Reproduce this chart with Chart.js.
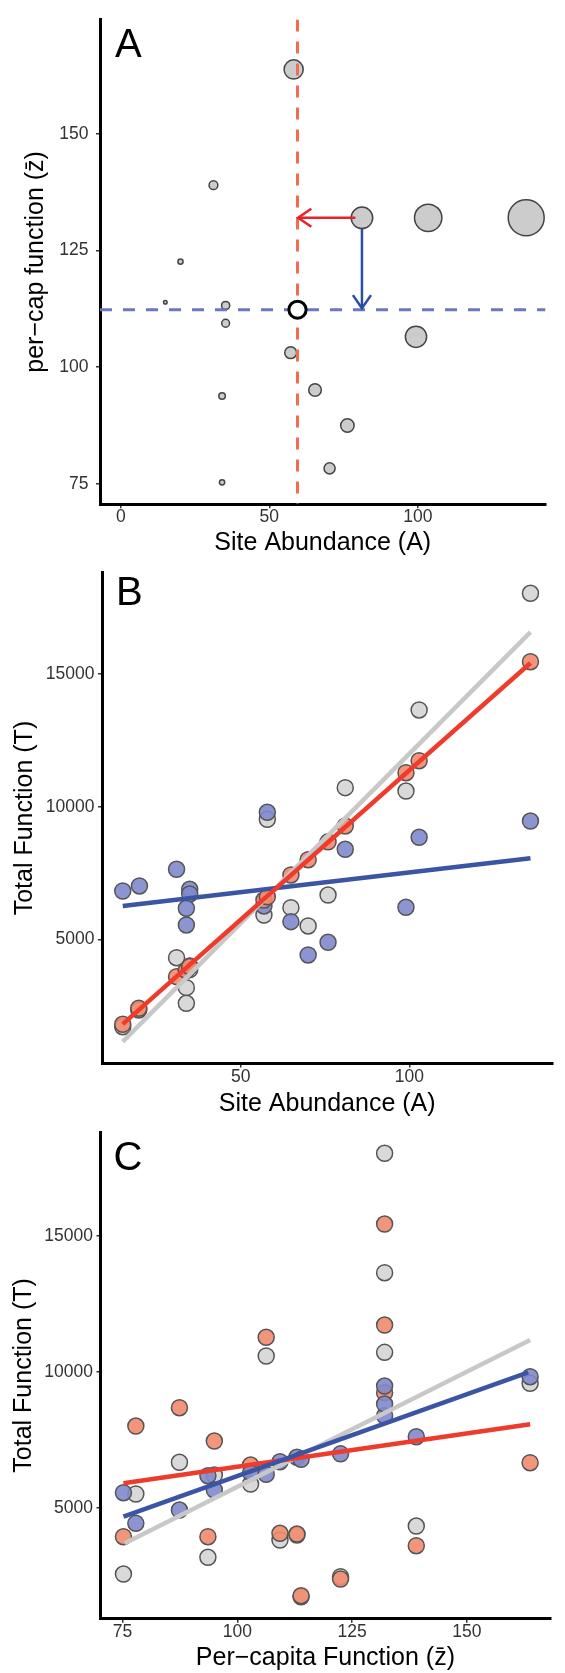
<!DOCTYPE html>
<html>
<head>
<meta charset="utf-8">
<script src="https://cdn.jsdelivr.net/npm/chart.js@4.4.1/dist/chart.umd.min.js"></script>
<style>
  html, body { margin: 0; padding: 0; background: #fff; }
  #wrap { position: relative; width: 565px; height: 1673px; overflow: hidden; }
  #wrap canvas { position: absolute; left: 0; }
</style>
</head>
<body>
<div id="wrap">
  <canvas id="chartA" width="565" height="560" style="top:0px"></canvas>
  <canvas id="chartB" width="565" height="575" style="top:545px"></canvas>
  <canvas id="chartC" width="565" height="558" style="top:1115px"></canvas>
</div>
<script>
// Panel A: one point per site
const siteAbundance = [15.0, 20.1, 31.2, 35.3, 35.3, 34.1, 34.1, 57.2, 58.2, 65.4, 70.3, 76.3, 81.2, 99.4, 103.5, 136.5];
const siteFunction = [113.9, 122.6, 139.0, 113.2, 109.4, 93.8, 75.3, 103.1, 163.8, 95.1, 78.3, 87.5, 132.0, 106.5, 132.0, 132.0];
const meanAbundance = 59.5;
const meanFunction = 112.3;
const redArrowX = [79.0, 59.7];
const redArrowY = [132.0, 132.0];
const blueArrowX = [81.2, 81.2];
const blueArrowY = [129.6, 112.6];
const aXRange = [-7, 143];
const aYRange = [70.6, 174.5];
const aXTicks = [0, 50, 100];
const aYTicks = [75, 100, 125, 150];

// Panel B: total function vs abundance
const bGreyA = [15.05, 19.8, 31.0, 34.9, 34.9, 33.9, 33.9, 57.9, 56.9, 64.9, 70.0, 75.9, 81.0, 99.0, 102.9, 135.9];
const bGreyT = [1704, 2334, 4306, 3990, 3860, 3175, 2586, 9525, 5916, 6192, 5502, 6670, 10717, 10592, 13647, 18048];
const bRedA = [15.05, 19.8, 31.0, 33.9, 33.9, 34.9, 34.9, 56.9, 57.9, 64.9, 70.0, 75.9, 81.0, 99.0, 102.9, 135.9];
const bRedT = [1795, 2398, 3590, 3830, 3830, 3970, 3970, 6480, 6600, 7425, 8000, 8675, 9273, 11282, 11735, 15468];
const bBlueA = [15.05, 20.0, 31.0, 34.9, 34.9, 33.9, 33.9, 56.9, 57.9, 64.9, 70.0, 75.9, 81.0, 99.0, 102.9, 135.9];
const bBlueT = [6821, 7010, 7640, 6886, 6708, 6169, 5539, 6256, 9789, 5664, 4408, 4887, 8394, 6207, 8846, 9460];
const bGreyFitA = [15.05, 135.9], bGreyFitT = [1139, 16580];
const bRedFitA = [15.05, 135.9], bRedFitT = [1800, 15420];
const bBlueFitA = [15.05, 135.9], bBlueFitT = [6256, 8054];
const bXRange = [8.9, 142.4];
const bYRange = [316, 18828];
const bXTicks = [50, 100];
const bYTicks = [5000, 10000, 15000];

// Panel C: total function vs per-capita function
const cGreyZ = [75.2, 77.9, 87.4, 93.6, 95.0, 102.9, 106.3, 109.3, 113.0, 113.9, 122.5, 132.1, 132.1, 132.1, 139.0, 163.8];
const cGreyT = [2563, 5504, 6669, 3177, 6202, 5871, 10577, 3813, 3996, 1728, 2464, 10712, 13639, 18028, 4327, 9573];
const cRedZ = [75.2, 77.9, 87.4, 93.6, 95.0, 102.9, 106.3, 109.3, 113.0, 113.9, 122.5, 132.1, 132.1, 132.1, 139.0, 163.8];
const cRedT = [3934, 8003, 8676, 3934, 7452, 6570, 11264, 4059, 4033, 1765, 2379, 9227, 11716, 15429, 3603, 6654];
const cBlueZ = [75.2, 77.9, 87.4, 93.6, 95.0, 102.9, 106.3, 109.3, 113.0, 113.9, 122.5, 132.1, 132.1, 132.1, 139.0, 163.8];
const cBlueT = [5551, 4426, 4915, 6176, 5651, 6287, 6228, 6691, 6853, 6779, 6981, 8382, 8812, 9474, 7610, 9816];
const cGreyFitZ = [75.5, 163.8], cGreyFitT = [3691, 11165];
const cRedFitZ = [75.2, 163.8], cRedFitT = [5897, 8066];
const cBlueFitZ = [75.2, 163.4], cBlueFitT = [4669, 9977];
const cXRange = [70.2, 168.2];
const cYRange = [920, 18804];
const cXTicks = [75, 100, 125, 150];
const cYTicks = [5000, 10000, 15000];

const FONT = "'Liberation Sans', Arial, Helvetica, sans-serif";
const GREY_FILL = "rgba(214,214,214,0.92)";
const RED_FILL = "rgba(242,138,108,0.9)";
const BLUE_FILL = "rgba(128,138,204,0.9)";
const EDGE = "#555";

function pts(xs, ys) {
  return xs.map((x, i) => ({ x: x, y: ys[i] }));
}

function axis(range, ticks, title, opts) {
  return {
    type: "linear",
    min: range[0],
    max: range[1],
    afterBuildTicks: (s) => { s.ticks = ticks.map((v) => ({ value: v })); },
    afterFit: (s) => {
      if (opts.horizontal) s.height = opts.size; else s.width = opts.size;
      s.paddingTop = 0; s.paddingBottom = 0; s.paddingLeft = 0; s.paddingRight = 0;
    },
    border: { display: true, color: "#000", width: 3 },
    grid: { display: true, drawOnChartArea: false, drawTicks: true, tickLength: 4, tickColor: "#333", lineWidth: 1.5 },
    ticks: {
      color: "#333", padding: opts.tickPad, autoSkip: false, maxRotation: 0,
      font: { family: FONT, size: 17.5, lineHeight: 1 },
      callback: (v) => String(v)
    },
    title: {
      display: true, text: title, color: "#000",
      font: { family: FONT, size: 25, lineHeight: 1.2 },
      padding: opts.titlePad
    }
  };
}

function fitLine(xs, ys, color, order) {
  return {
    data: pts(xs, ys), showLine: true, pointRadius: 0, borderColor: color,
    borderWidth: 4.5, borderCapStyle: "butt", order: order
  };
}

function dots(xs, ys, fill, order) {
  return {
    data: pts(xs, ys), pointRadius: 8, pointBorderWidth: 1.5,
    pointBackgroundColor: fill, pointBorderColor: EDGE, showLine: false, order: order
  };
}

const panelLetter = {
  id: "panelLetter",
  afterDraw(chart, args, opts) {
    const { ctx, chartArea } = chart;
    ctx.save();
    ctx.font = `40px ${FONT}`;
    ctx.fillStyle = "#000";
    ctx.textBaseline = "alphabetic";
    ctx.fillText(opts.text, chartArea.left + opts.dx, chartArea.top + opts.dy);
    ctx.restore();
  }
};

// open "V" heads at the end of datasets flagged as arrows
const arrowHeads = {
  id: "arrowHeads",
  afterDatasetsDraw(chart) {
    const ctx = chart.ctx;
    chart.data.datasets.forEach((ds, i) => {
      if (!ds.arrow) return;
      const els = chart.getDatasetMeta(i).data;
      const tip = els[els.length - 1];
      const from = els[els.length - 2];
      const ang = Math.atan2(tip.y - from.y, tip.x - from.x);
      const len = 16, spread = 0.6;
      ctx.save();
      ctx.strokeStyle = ds.borderColor;
      ctx.lineWidth = ds.borderWidth;
      ctx.beginPath();
      ctx.moveTo(tip.x - len * Math.cos(ang - spread), tip.y - len * Math.sin(ang - spread));
      ctx.lineTo(tip.x, tip.y);
      ctx.lineTo(tip.x - len * Math.cos(ang + spread), tip.y - len * Math.sin(ang + spread));
      ctx.stroke();
      ctx.restore();
    });
  }
};

function baseOptions(padTop, padRight, letter) {
  return {
    responsive: false,
    animation: false,
    devicePixelRatio: 1,
    layout: { padding: { top: padTop, right: padRight, left: 0, bottom: 0 } },
    plugins: {
      legend: { display: false },
      tooltip: { enabled: false },
      panelLetter: letter
    }
  };
}

// ---------- Panel A ----------
const siteTotal = siteAbundance.map((a, i) => a * siteFunction[i]);
const tMin = Math.min(...siteTotal), tMax = Math.max(...siteTotal);
function bubbleRadius(t) {
  return 1.8 + 16.2 * (t - tMin) / (tMax - tMin);
}

const optsA = baseOptions(10.7, 0, { text: "A", dx: 15, dy: 37.3 });
optsA.scales = {
  x: axis(aXRange, aXTicks, "Site Abundance (A)", { horizontal: true, size: 55.7, tickPad: 0, titlePad: { bottom: 2 } }),
  y: axis(aYRange, aYTicks, "per\u2212cap function (z\u0304)", { horizontal: false, size: 100, tickPad: 7.5, titlePad: { top: 21 } })
};

new Chart(document.getElementById("chartA"), {
  type: "scatter",
  data: {
    datasets: [
      { data: pts(redArrowX, redArrowY), showLine: true, pointRadius: 0, borderColor: "#e8212a", borderWidth: 2.5, arrow: true, order: 0 },
      { data: pts(blueArrowX, blueArrowY), showLine: true, pointRadius: 0, borderColor: "#2a4ea2", borderWidth: 2.5, arrow: true, order: 0 },
      { data: [{ x: meanAbundance, y: meanFunction }], pointRadius: 8.6, pointBorderWidth: 3, pointBackgroundColor: "#fff", pointBorderColor: "#000", order: 1 },
      { data: [{ x: meanAbundance, y: aYRange[1] }, { x: meanAbundance, y: aYRange[0] }], showLine: true, pointRadius: 0,
        borderColor: "#f26d4f", borderWidth: 3, borderDash: [12, 10], order: 2 },
      { data: [{ x: aXRange[0], y: meanFunction }, { x: aXRange[1], y: meanFunction }], showLine: true, pointRadius: 0,
        borderColor: "#6c77bf", borderWidth: 3, borderDash: [12, 11], order: 2 },
      { data: pts(siteAbundance, siteFunction), order: 3, pointBackgroundColor: "#cccccc", pointBorderColor: "#444",
        pointBorderWidth: 1.5, pointRadius: (ctx) => bubbleRadius(siteTotal[ctx.dataIndex]) }
    ]
  },
  options: optsA,
  plugins: [panelLetter, arrowHeads]
});

// ---------- Panel B ----------
const optsB = baseOptions(27.6, 12.6, { text: "B", dx: 14, dy: 32.5 });
optsB.scales = {
  x: axis(bXRange, bXTicks, "Site Abundance (A)", { horizontal: true, size: 56.5, tickPad: 0.5, titlePad: { bottom: 1 } }),
  y: axis(bYRange, bYTicks, "Total Function (T)", { horizontal: false, size: 102, tickPad: 3.6, titlePad: { top: 10.5 } })
};

new Chart(document.getElementById("chartB"), {
  type: "scatter",
  data: {
    datasets: [
      fitLine(bRedFitA, bRedFitT, "#ef3b2c", 0),
      fitLine(bBlueFitA, bBlueFitT, "#3b54a4", 1),
      fitLine(bGreyFitA, bGreyFitT, "#c8c8c8", 2),
      dots(bRedA, bRedT, RED_FILL, 3),
      dots(bBlueA, bBlueT, BLUE_FILL, 4),
      dots(bGreyA, bGreyT, GREY_FILL, 5)
    ]
  },
  options: optsB,
  plugins: [panelLetter]
});

// ---------- Panel C ----------
const optsC = baseOptions(17.2, 14.7, { text: "C", dx: 13, dy: 38 });
optsC.scales = {
  x: axis(cXRange, cXTicks, "Per\u2212capita Function (z\u0304)", { horizontal: true, size: 54.3, tickPad: 1, titlePad: { bottom: 0 } }),
  y: axis(cYRange, cYTicks, "Total Function (T)", { horizontal: false, size: 100.5, tickPad: 3.5, titlePad: { top: 9 } })
};

new Chart(document.getElementById("chartC"), {
  type: "scatter",
  data: {
    datasets: [
      fitLine(cBlueFitZ, cBlueFitT, "#3b54a4", 0),
      fitLine(cRedFitZ, cRedFitT, "#ef3b2c", 1),
      fitLine(cGreyFitZ, cGreyFitT, "#c8c8c8", 2),
      dots(cBlueZ, cBlueT, BLUE_FILL, 3),
      dots(cRedZ, cRedT, RED_FILL, 4),
      dots(cGreyZ, cGreyT, GREY_FILL, 5)
    ]
  },
  options: optsC,
  plugins: [panelLetter]
});
</script>
</body>
</html>
